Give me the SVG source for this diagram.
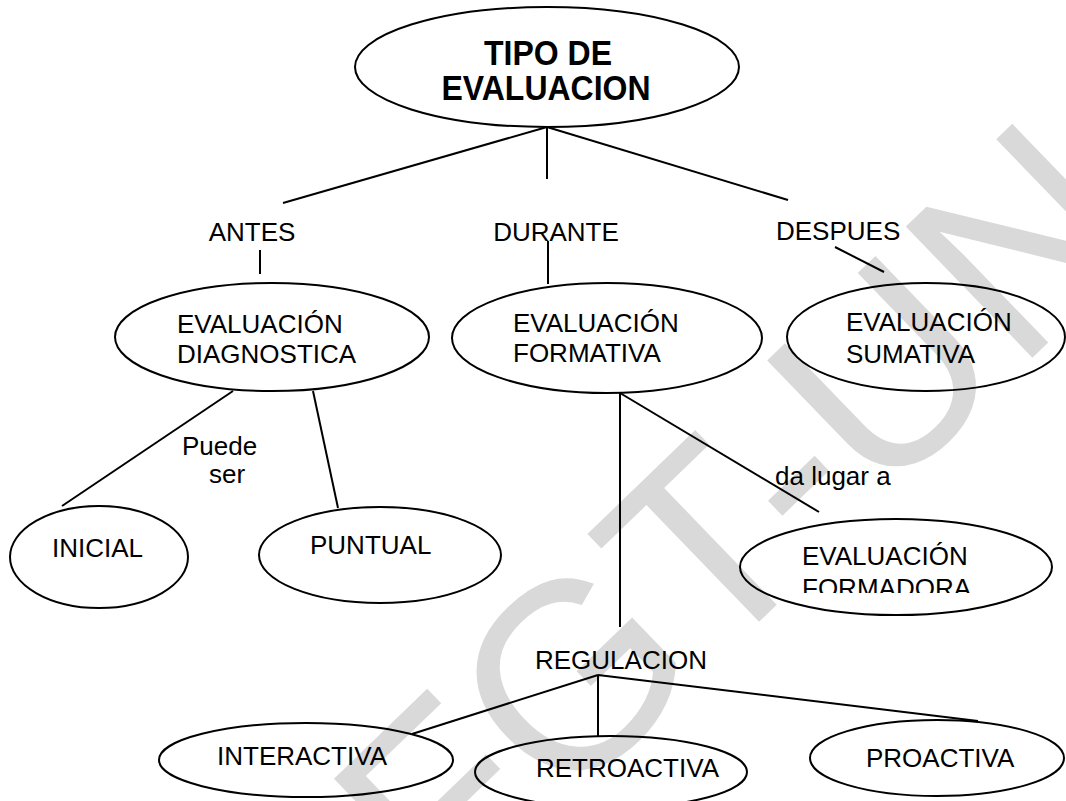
<svg xmlns="http://www.w3.org/2000/svg" width="1066" height="801" viewBox="0 0 1066 801">
<style>
  .node ellipse { fill: none; stroke: #000; stroke-width: 2; }
  text { font-family: "Liberation Sans", Arial, sans-serif; font-size: 26px; fill: #000; }
  .title { font-weight: bold; font-size: 32px; }
  #connectors line { stroke: #000; stroke-width: 2; }
  .wm { font-size: 265px; fill: #d9d9d9; }
</style>
<defs>
  <clipPath id="clipFormadora"><rect x="740" y="500" width="326" height="93"/></clipPath>
</defs>
<rect width="1066" height="801" fill="#fff"/>
<text class="wm" transform="translate(445,925) rotate(-44)">FGT-UN</text>

<g id="connectors">
  <line x1="547" y1="127" x2="283" y2="203"/>
  <line x1="547" y1="127" x2="547" y2="179"/>
  <line x1="547" y1="127" x2="788" y2="200"/>
  <line x1="260" y1="250" x2="260" y2="274"/>
  <line x1="548" y1="241" x2="548" y2="284"/>
  <line x1="835" y1="247" x2="884" y2="272"/>
  <line x1="233" y1="391" x2="62" y2="506"/>
  <line x1="313" y1="391" x2="338" y2="508"/>
  <line x1="620" y1="393" x2="620" y2="627"/>
  <line x1="620" y1="393" x2="819" y2="512"/>
  <line x1="598" y1="675" x2="412" y2="734"/>
  <line x1="598" y1="675" x2="598" y2="737"/>
  <line x1="598" y1="675" x2="978" y2="721"/>
</g>

<g id="tipo" class="node">
  <ellipse cx="547" cy="67" rx="192" ry="60"/>
  <text class="title" text-anchor="middle" transform="translate(548,65) scale(1,1.08)">TIPO DE</text>
  <text class="title" text-anchor="middle" transform="translate(546,100) scale(1,1.08)">EVALUACION</text>
</g>
<g id="antes"><text x="252" y="241" text-anchor="middle">ANTES</text></g>
<g id="durante"><text x="556" y="241" text-anchor="middle">DURANTE</text></g>
<g id="despues"><text x="776" y="240">DESPUES</text></g>

<g id="diagnostica" class="node">
  <ellipse cx="272" cy="337" rx="157" ry="54"/>
  <text x="177" y="333">EVALUACIÓN</text>
  <text x="177" y="363">DIAGNOSTICA</text>
</g>
<g id="formativa" class="node">
  <ellipse cx="607" cy="338" rx="155" ry="55"/>
  <text x="513" y="332">EVALUACIÓN</text>
  <text x="513" y="362">FORMATIVA</text>
</g>
<g id="sumativa" class="node">
  <ellipse cx="926" cy="337" rx="139" ry="54"/>
  <text x="846" y="331">EVALUACIÓN</text>
  <text x="846" y="363">SUMATIVA</text>
</g>

<g id="puede-ser">
  <text x="182" y="455">Puede</text>
  <text x="209" y="483">ser</text>
</g>

<g id="inicial" class="node">
  <ellipse cx="99" cy="557" rx="89" ry="51"/>
  <text x="52" y="557">INICIAL</text>
</g>
<g id="puntual" class="node">
  <ellipse cx="380" cy="555" rx="121" ry="48"/>
  <text x="310" y="554">PUNTUAL</text>
</g>

<g id="da-lugar"><text x="775" y="485">da lugar a</text></g>

<g id="formadora" class="node">
  <ellipse cx="896" cy="567" rx="156" ry="48"/>
  <g clip-path="url(#clipFormadora)">
    <text x="802" y="565">EVALUACIÓN</text>
    <text x="802" y="597">FORMADORA</text>
  </g>
</g>

<g id="regulacion"><text x="535" y="669">REGULACION</text></g>

<g id="interactiva" class="node">
  <ellipse cx="306" cy="760" rx="147" ry="37"/>
  <text x="217" y="765">INTERACTIVA</text>
</g>
<g id="retroactiva" class="node">
  <ellipse cx="611" cy="772" rx="136" ry="36"/>
  <text x="536" y="777">RETROACTIVA</text>
</g>
<g id="proactiva" class="node">
  <ellipse cx="937" cy="758" rx="127" ry="38"/>
  <text x="866" y="767">PROACTIVA</text>
</g>
</svg>
